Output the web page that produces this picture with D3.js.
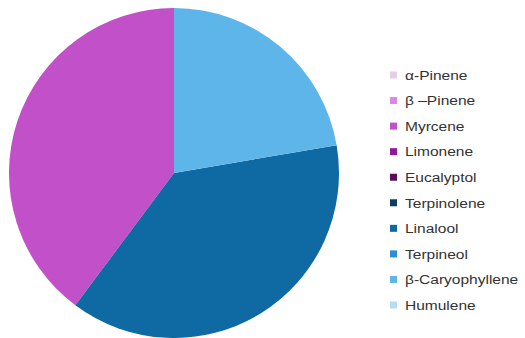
<!DOCTYPE html>
<html><head><meta charset="utf-8">
<script src="https://cdn.jsdelivr.net/npm/d3@7"></script>
<style>html,body{margin:0;padding:0;background:#fff;}</style>
</head><body>
<svg id="chart" width="525" height="338"></svg>
<script>
const categories = ["α-Pinene","β –Pinene","Myrcene","Limonene","Eucalyptol","Terpinolene","Linalool","Terpineol","β-Caryophyllene","Humulene"];
const values = [0, 0, 39.8, 0, 0, 0, 37.9, 0, 22.3, 0];
const colors = ["#e6cdea","#d98ae0","#c150c9","#8c1c97","#5b0c5c","#0c3d5f","#0f69a2","#2b90d8","#5db5e9","#b9dcf3"];

const svg = d3.select("#chart");
const cx = 174, cy = 173, r = 165;
const color = d3.scaleOrdinal().domain(categories).range(colors);
const pie = d3.pie().sort(null).value(d => d.v).startAngle(0).endAngle(-2*Math.PI);
const data = categories.map((c,i)=>({c, v: values[i]}));
const arc = d3.arc().innerRadius(0).outerRadius(r);
svg.append("g").attr("transform",`translate(${cx},${cy})`)
  .selectAll("path").data(pie(data).filter(d=>d.data.v>0)).join("path")
  .attr("d", arc).attr("fill", d=>color(d.data.c));

const y = d3.scalePoint().domain(categories).range([75, 305]);
const lg = svg.append("g");
const items = lg.selectAll("g").data(categories).join("g")
  .attr("transform", d=>`translate(390,${y(d)})`);
items.append("rect").attr("x",0).attr("y",-3.5).attr("width",7).attr("height",7).attr("fill", d=>color(d));
items.append("text").attr("transform","translate(15,0) scale(1.15,1)").attr("dy","0.35em")
  .attr("font-family","Liberation Sans, Arial, sans-serif").attr("font-size",13.5).attr("fill","#333")
  .text(d=>d);
</script>
</body></html>
